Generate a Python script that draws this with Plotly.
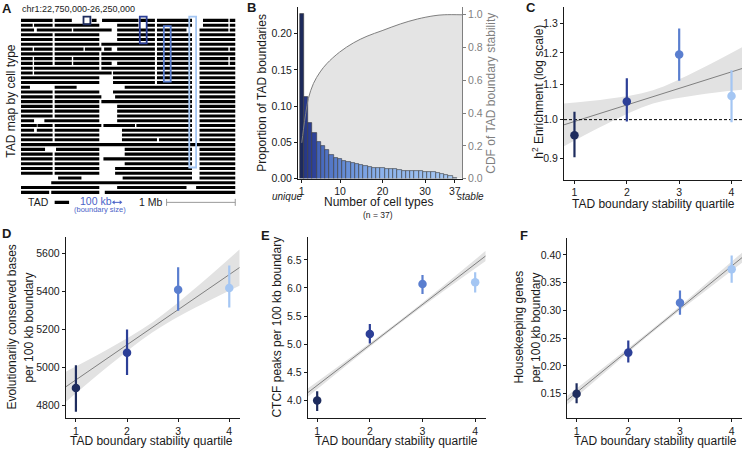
import plotly.graph_objects as go
from plotly.colors import sample_colorscale

W, H = 742, 452
FONT = "Liberation Sans, Arial, sans-serif"
INK = "#1a1a1a"
GRAY = "#7f7f7f"

# ---------------- Panel A data (TAD map, Mb) ----------------
region_label = "chr1:22,750,000-26,250,000"
tad_rows = [
    [(22.75, 23.21), (23.24, 23.49), (23.78, 23.85), (23.93, 24.46), (24.48, 24.70), (24.73, 25.24), (25.40, 25.77), (25.79, 25.87)],
    [(22.75, 22.92), (22.94, 23.21), (23.24, 23.89), (24.15, 24.46), (24.58, 24.70), (24.73, 25.24), (25.40, 25.77), (25.79, 25.87)],
    [(22.75, 22.94), (22.98, 23.49), (23.51, 24.07), (24.15, 24.70), (24.73, 25.16), (25.35, 25.77), (25.79, 25.87)],
    [(22.75, 23.21), (23.24, 23.89), (24.15, 24.70), (24.73, 25.24), (25.35, 25.87)],
    [(22.75, 23.21), (23.24, 23.89), (24.15, 24.70), (24.73, 25.24), (25.35, 25.87)],
    [(22.75, 23.21), (23.24, 23.89), (23.92, 24.70), (24.73, 25.24), (25.35, 25.87)],
    [(22.75, 22.92), (22.94, 23.21), (23.24, 23.66), (23.68, 23.92), (23.96, 24.07), (24.15, 24.70), (24.73, 25.24), (25.35, 25.77), (25.79, 25.87)],
    [(22.75, 23.21), (23.24, 23.89), (23.92, 24.70), (24.73, 25.24), (25.35, 25.87)],
    [(22.75, 22.92), (22.94, 23.21), (23.24, 23.49), (23.51, 23.89), (23.92, 24.70), (24.73, 25.24), (25.35, 25.77), (25.79, 25.87)],
    [(22.75, 22.92), (22.94, 23.21), (23.24, 23.49), (23.51, 23.89), (23.92, 24.07), (24.15, 24.70), (24.73, 25.24), (25.35, 25.77), (25.79, 25.87)],
    [(22.75, 22.92), (22.94, 23.89), (23.92, 24.70), (24.73, 25.24), (25.35, 25.87)],
    [(22.75, 22.92), (22.94, 24.07), (24.09, 24.70), (24.73, 25.24), (25.35, 25.87)],
    [(22.75, 23.89), (24.09, 24.70), (24.73, 25.24), (25.35, 25.87)],
    [(22.75, 23.89), (24.09, 24.70), (24.73, 25.24), (25.35, 25.87)],
    [(22.75, 22.88), (23.24, 23.56), (24.26, 25.24), (25.35, 25.87)],
    [(22.75, 23.21), (23.24, 23.89), (24.09, 25.24), (25.35, 25.87)],
    [(22.75, 23.21), (23.24, 23.92), (24.12, 25.24), (25.35, 25.87)],
    [(22.75, 23.21), (23.24, 23.89), (23.92, 25.24), (25.35, 25.87)],
    [(22.75, 23.21), (23.24, 23.89), (24.15, 25.24), (25.35, 25.87)],
    [(22.75, 23.21), (23.24, 23.89), (24.15, 25.24), (25.35, 25.87)],
    [(22.75, 23.21), (23.24, 23.89), (24.15, 25.24), (25.35, 25.87)],
    [(22.75, 22.94), (23.09, 23.89), (24.15, 25.24), (25.35, 25.87)],
    [(22.75, 22.98), (22.99, 23.21), (23.24, 23.92), (23.95, 24.41), (24.43, 25.24), (25.35, 25.87)],
    [(22.75, 22.94), (22.98, 23.21), (23.24, 23.89), (24.22, 25.24), (25.35, 25.87)],
    [(22.75, 23.21), (23.24, 23.89), (24.22, 25.24), (25.35, 25.87)],
    [(22.75, 23.21), (23.24, 23.89), (24.22, 24.73), (24.76, 25.24), (25.35, 25.87)],
    [(22.75, 25.87)],
    [(22.75, 23.10), (23.26, 23.89), (24.26, 25.24), (25.35, 25.87)],
    [(22.75, 23.21), (23.24, 23.89), (24.26, 25.24), (25.35, 25.87)],
    [(22.75, 23.21), (23.24, 23.89), (23.95, 25.24), (25.35, 25.87)],
    [(22.75, 23.21), (23.24, 23.89), (24.26, 25.24), (25.35, 25.87)],
    [(22.75, 23.21), (23.24, 23.89), (24.12, 25.24), (25.35, 25.87)],
    [(22.75, 23.21), (23.24, 23.89), (24.12, 25.24), (25.35, 25.87)],
    [(23.29, 23.63), (24.23, 25.24), (25.35, 25.87)],
    [(23.19, 25.87)],
    [(22.75, 23.89), (24.15, 25.16), (25.30, 25.87)],
    [(22.75, 23.16), (23.19, 23.89), (23.97, 25.87)],
]
boundary_centers = [23.71, 24.53, 24.88, 25.25]
boundary_rows = [(1, 1), (1, 5), (3, 13), (1, 31)]
boundary_size_mb = 0.1
scale_bar_mb = 1.0

# ---------------- Panel B data ----------------
cell_types = list(range(1, 38))
prop_boundaries = [0.227, 0.113, 0.0767, 0.063, 0.0507, 0.0447, 0.040, 0.0324, 0.0288, 0.0265,
                   0.0242, 0.0228, 0.021, 0.0196, 0.0183, 0.0174, 0.016, 0.015, 0.0146, 0.0142,
                   0.0137, 0.0137, 0.0128, 0.0114, 0.011, 0.0105, 0.0105, 0.0105, 0.010, 0.0096,
                   0.0091, 0.0091, 0.0082, 0.0068, 0.0055, 0.0037, 0.0014]
cdf_x = [1, 1.39, 1.94, 2.57, 3.76, 5.33, 6.91, 9.9, 13.2, 16.35, 19.9, 24.2, 28.2, 32.1, 34.5, 38.7]
cdf_y = [0.218, 0.298, 0.399, 0.490, 0.581, 0.651, 0.702, 0.772, 0.829, 0.869, 0.903, 0.944, 0.974, 0.994, 1.0, 1.0]
b_xticks = [1, 10, 20, 30, 37]

# ---------------- Panels C-F data ----------------
quartiles = [1, 2, 3, 4]
band_x = [0.8, 1.65, 2.5, 3.35, 4.2]

h2_mean = [0.958, 1.051, 1.195, 1.067]
h2_lo = [0.902, 0.995, 1.112, 0.993]
h2_hi = [1.022, 1.120, 1.283, 1.145]
h2_fit = [0.986, 1.150]
h2_band_lo = [0.930, 0.991, 1.045, 1.070, 1.085]
h2_band_hi = [1.045, 1.059, 1.084, 1.144, 1.219]
h2_ref = 1.0

cons_mean = [4892, 5078, 5408, 5418]
cons_lo = [4767, 4961, 5298, 5315]
cons_hi = [5012, 5199, 5527, 5536]
cons_fit = [4898, 5525]
cons_band_lo = [4818, 5010, 5185, 5316, 5430]
cons_band_hi = [4978, 5100, 5238, 5420, 5620]

ctcf_mean = [3.995, 5.18, 6.07, 6.10]
ctcf_lo = [3.81, 5.01, 5.89, 5.92]
ctcf_hi = [4.16, 5.36, 6.23, 6.28]
ctcf_fit = [4.12, 6.57]
ctcf_band_lo = [4.045, 4.69, 5.32, 5.91, 6.48]
ctcf_band_hi = [4.195, 4.775, 5.37, 6.005, 6.66]

hk_mean = [0.150, 0.224, 0.314, 0.374]
hk_lo = [0.133, 0.206, 0.292, 0.350]
hk_hi = [0.169, 0.246, 0.336, 0.399]
hk_fit = [0.137, 0.395]
hk_band_lo = [0.129, 0.1965, 0.263, 0.325, 0.386]
hk_band_hi = [0.145, 0.2065, 0.269, 0.336, 0.404]

q_colors = ["#1e2c5e", "#2c3f97", "#5a7ecf", "#a4c6f3"]
RIBBON = "#e2e2e2"


def fx(p):
    return p / W


def fy(p):
    return 1 - p / H


fig = go.Figure()
annotations = []
shapes = []


def ann(text, x, y, size=12, color=INK, angle=0, xanchor="center", yanchor="middle"):
    annotations.append(dict(text=text, x=fx(x), y=fy(y), xref="paper", yref="paper",
                            showarrow=False, textangle=angle, xanchor=xanchor, yanchor=yanchor,
                            font=dict(family=FONT, size=size, color=color)))


# ---------------- Panel A ----------------
xs, ys = [], []
for r, row in enumerate(tad_rows, start=1):
    for s, e in row:
        xs += [s, e, None]
        ys += [r, r, None]
fig.add_trace(go.Scatter(x=xs, y=ys, mode="lines", line=dict(color="black", width=3.1),
                         xaxis="x", yaxis="y", hoverinfo="skip", showlegend=False))
for c, (r0, r1), col in zip(boundary_centers, boundary_rows, q_colors):
    shapes.append(dict(type="rect", xref="x", yref="y", x0=c - boundary_size_mb / 2, x1=c + boundary_size_mb / 2,
                       y0=r0 - 0.8, y1=r1 + 0.8, line=dict(color=col, width=1.8)))

map_end = max(e for row in tad_rows for _, e in row)
legend_row = len(tad_rows) + 2.1
# scale bar
fig.add_trace(go.Scatter(x=[map_end - scale_bar_mb, map_end], y=[legend_row, legend_row], mode="lines+markers",
                         line=dict(color="#9a9a9a", width=1), marker=dict(symbol="line-ns", size=5,
                         line=dict(color="#9a9a9a", width=1)), xaxis="x", yaxis="y", showlegend=False, hoverinfo="skip"))
# 100 kb arrow
arrow_start = 24.10
fig.add_trace(go.Scatter(x=[arrow_start, arrow_start + boundary_size_mb], y=[legend_row, legend_row], mode="lines+markers",
                         line=dict(color="#4a63c8", width=1),
                         marker=dict(symbol=["triangle-left", "triangle-right"], size=3.5, color="#4a63c8"),
                         xaxis="x", yaxis="y", showlegend=False, hoverinfo="skip"))
# TAD legend glyph
fig.add_trace(go.Scatter(x=[23.24, 23.45], y=[legend_row, legend_row], mode="lines",
                         line=dict(color="black", width=3.1), xaxis="x", yaxis="y", showlegend=False, hoverinfo="skip"))

ann("<b>A</b>", 7, 9, size=13)
ann(region_label, 20, 9.5, size=9, xanchor="left")
ann("TAD map by cell type", 11, 103, size=12, angle=-90)
ann("TAD", 38, 205, size=10.5)
ann("100 kb", 96, 204, size=10.5, color="#4a63c8")
ann("(boundary size)", 99.5, 212, size=7.5, color="#4a63c8")
ann("1 Mb", 151, 205, size=10.5)

# ---------------- Panel B ----------------
bar_scale = [[0, "#1d2a5c"], [0.03, "#283a8c"], [0.085, "#2e4299"], [0.11, "#4464b9"],
             [0.3, "#6890d9"], [0.5, "#8ab1ea"], [1, "#a8c9f4"]]
bar_colors = sample_colorscale(bar_scale, [(k - 1) / 36 for k in cell_types])

fig.add_trace(go.Scatter(x=cdf_x, y=cdf_y, mode="lines", line=dict(width=0, shape="spline"),
                         fill="tozeroy", fillcolor="#e4e4e4", xaxis="x2", yaxis="y3",
                         showlegend=False, hoverinfo="skip"))
fig.add_trace(go.Bar(x=cell_types, y=prop_boundaries, width=1,
                     marker=dict(color=bar_colors, line=dict(color="#3a3a3a", width=0.6)),
                     xaxis="x2", yaxis="y2", showlegend=False))
fig.add_trace(go.Scatter(x=cdf_x, y=cdf_y, mode="lines", line=dict(color=GRAY, width=1, shape="spline"),
                         xaxis="x2", yaxis="y4", showlegend=False, hoverinfo="skip"))

ann("<b>B</b>", 251, 8, size=13)
ann("Proportion of TAD boundaries", 262, 94, size=12, angle=-90)
ann("CDF of TAD boundary stability", 491, 95, size=12, color=GRAY, angle=-90)
ann("Number of cell types", 378, 205, size=12)
ann("(n = 37)", 378, 218, size=8.5)
ann("<i>unique</i>", 287, 199, size=10)
ann("<i>stable</i>", 470, 199, size=10)


# ---------------- Panels C-F ----------------
def quartile_panel(xa, ya, fit, blo, bhi):
    fig.add_trace(go.Scatter(x=band_x, y=blo, mode="lines", line=dict(width=0, shape="spline"),
                             xaxis=xa, yaxis=ya, showlegend=False, hoverinfo="skip"))
    fig.add_trace(go.Scatter(x=band_x, y=bhi, mode="lines", line=dict(width=0, shape="spline"),
                             fill="tonexty", fillcolor=RIBBON, xaxis=xa, yaxis=ya, showlegend=False, hoverinfo="skip"))
    fig.add_trace(go.Scatter(x=[band_x[0], band_x[-1]], y=fit, mode="lines", line=dict(color=GRAY, width=1),
                             xaxis=xa, yaxis=ya, showlegend=False, hoverinfo="skip"))


def quartile_points(xa, ya, mean, lo, hi):
    for q, m, l, h, c in zip(quartiles, mean, lo, hi, q_colors):
        fig.add_trace(go.Scatter(x=[q], y=[m], mode="markers", marker=dict(size=8.5, color=c),
                                 error_y=dict(type="data", symmetric=False, array=[h - m], arrayminus=[m - l],
                                              color=c, thickness=2.2, width=0),
                                 xaxis=xa, yaxis=ya, showlegend=False))


quartile_panel("x3", "y5", h2_fit, h2_band_lo, h2_band_hi)
fig.add_trace(go.Scatter(x=[band_x[0], band_x[-1]], y=[h2_ref, h2_ref], mode="lines",
                         line=dict(color="black", width=1, dash="3px,2px"), xaxis="x3", yaxis="y5",
                         showlegend=False, hoverinfo="skip"))
quartile_points("x3", "y5", h2_mean, h2_lo, h2_hi)

quartile_panel("x4", "y6", cons_fit, cons_band_lo, cons_band_hi)
quartile_points("x4", "y6", cons_mean, cons_lo, cons_hi)
quartile_panel("x5", "y7", ctcf_fit, ctcf_band_lo, ctcf_band_hi)
quartile_points("x5", "y7", ctcf_mean, ctcf_lo, ctcf_hi)
quartile_panel("x6", "y8", hk_fit, hk_band_lo, hk_band_hi)
quartile_points("x6", "y8", hk_mean, hk_lo, hk_hi)

ann("<b>C</b>", 531, 8, size=13)
ann("h<sup>2</sup> Enrichment (log scale)", 538, 93, size=12, angle=-90)
ann("TAD boundary stability quartile", 653, 207, size=12)

ann("<b>D</b>", 6, 237, size=13)
ann("Evolutionarily conserved bases", 12, 332, size=12, angle=-90)
ann("per 100 kb boundary", 29, 332, size=12, angle=-90)
ann("TAD boundary stability quartile", 151, 446.5, size=12)

ann("<b>E</b>", 265, 239, size=13)
ann("CTCF peaks per 100 kb boundary", 277, 332, size=12, angle=-90)
ann("TAD boundary stability quartile", 396, 446.5, size=12)

ann("<b>F</b>", 524, 239, size=13)
ann("Housekeeping genes", 519, 332, size=12, angle=-90)
ann("per 100 kb boundary", 536, 332, size=12, angle=-90)
ann("TAD boundary stability quartile", 655, 446.5, size=12)

# ---------------- Axes ----------------
ax = dict(showline=True, linecolor=INK, linewidth=1, ticks="outside", ticklen=3, tickwidth=1,
          tickcolor=INK, tickfont=dict(family=FONT, size=10.5, color=INK), showgrid=False, zeroline=False,
          fixedrange=True)
qx = dict(ax, tickvals=quartiles)

layout = dict(
    width=W, height=H, margin=dict(l=0, r=0, t=0, b=0), paper_bgcolor="white", plot_bgcolor="rgba(0,0,0,0)",
    font=dict(family=FONT, color=INK), showlegend=False, bargap=0,
    xaxis=dict(domain=[0, fx(240)], range=[22.444, 25.939], visible=False, anchor="y"),
    yaxis=dict(domain=[fy(220), fy(10)], range=[42.18, -1.21], visible=False, anchor="x"),
    xaxis2=dict(ax, domain=[fx(298), fx(462)], range=[0.12, 38.7], tickvals=b_xticks, anchor="y3"),
    yaxis3=dict(ax, domain=[fy(181), fy(7)], range=[0, 1.048], side="right", anchor="x2",
                tickvals=[0, 0.2, 0.4, 0.6, 0.8, 1.0], tickformat=".1f", linecolor=GRAY, tickcolor=GRAY,
                tickfont=dict(family=FONT, size=10.5, color=GRAY)),
    yaxis2=dict(ax, overlaying="y3", side="left", anchor="x2", range=[0, 0.237],
                tickvals=[0, 0.05, 0.10, 0.15, 0.20], tickformat=".2f"),
    yaxis4=dict(overlaying="y3", range=[0, 1.048], visible=False, anchor="x2"),
    xaxis3=dict(qx, domain=[fx(564), 1], range=[0.8, 4.2], anchor="y5"),
    yaxis5=dict(ax, domain=[fy(182), fy(7)], type="log", range=[-0.0712, 0.1339], anchor="x3",
                tickvals=[0.9, 1.0, 1.1, 1.2, 1.3], ticktext=["0.9", "1.0", "1.1", "1.2", "1.3"]),
    xaxis4=dict(qx, domain=[fx(65.7), fx(240)], range=[0.8, 4.21], anchor="y6"),
    yaxis6=dict(ax, domain=[fy(424), fy(240)], range=[4732.6, 5686.6], anchor="x4",
                tickvals=[4800, 5000, 5200, 5400, 5600]),
    xaxis5=dict(qx, domain=[fx(307.7), fx(485.7)], range=[0.82, 4.2], anchor="y7"),
    yaxis7=dict(ax, domain=[fy(424), fy(240)], range=[3.678, 6.91], anchor="x5",
                tickvals=[4.0, 4.5, 5.0, 5.5, 6.0, 6.5], tickformat=".1f"),
    xaxis6=dict(qx, domain=[fx(567.3), 1], range=[0.82, 4.2], anchor="y8"),
    yaxis8=dict(ax, domain=[fy(424), fy(241.7)], range=[0.1056, 0.4295], anchor="x6",
                tickvals=[0.15, 0.20, 0.25, 0.30, 0.35, 0.40], tickformat=".2f"),
    annotations=annotations, shapes=shapes,
)
fig.update_layout(**layout)
fig.write_html("out.html", config={"displayModeBar": False},
               post_script="document.body.style.margin='0';document.body.style.padding='0';")
